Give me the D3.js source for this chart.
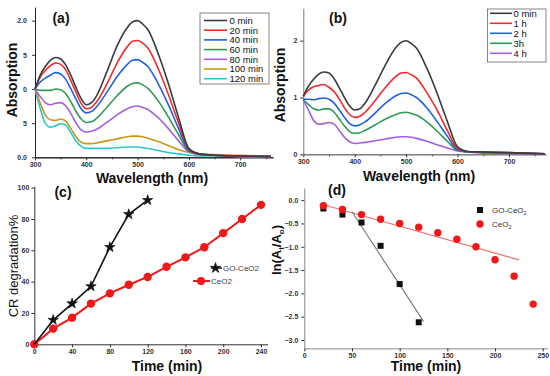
<!DOCTYPE html>
<meta charset="utf-8">
<script src="https://d3js.org/d3.v7.min.js"></script>
<style>
  body { margin: 0; background: #fff; }
  text { font-family: Arial, "Liberation Sans", sans-serif; }
  .tick text { font-size: 7px; font-weight: bold; fill: #333; }
  .tick line { stroke: #333; }
</style>
<body>
<div id="fig"></div>
<script>
  // ---- (a) / (b) UV-vis spectra ----
  var wavelengthsA = [300, 310, 320, 330, 340, 350, 360, 370, 380, 390, 400, 410, 420, 440, 460, 480, 490, 500, 510, 520, 540, 560, 580, 600, 620, 650, 700, 760];
  var wavelengthsB = [300, 310, 320, 330, 340, 350, 360, 370, 380, 390, 400, 410, 420, 440, 460, 480, 490, 500, 510, 520, 540, 560, 580, 600, 620, 650, 700, 770];

  var seriesNamesA = ["0 min", "20 min", "40 min", "60 min", "80 min", "100 min", "120 min"];
  var absA_0 = [1.00, 1.20, 1.33, 1.42, 1.46, 1.44, 1.35, 1.20, 1.02, 0.86, 0.77, 0.80, 0.90, 1.25, 1.63, 1.90, 1.98, 2.00, 1.95, 1.87, 1.52, 1.08, 0.58, 0.13, 0.05, 0.03, 0.02, 0.01];
  var absA_20 = [1.00, 1.17, 1.27, 1.34, 1.38, 1.36, 1.28, 1.12, 0.95, 0.79, 0.71, 0.73, 0.81, 1.07, 1.38, 1.62, 1.70, 1.71, 1.67, 1.60, 1.30, 0.92, 0.50, 0.12, 0.05, 0.03, 0.02, 0.01];
  var absA_40 = [1.00, 1.10, 1.16, 1.20, 1.24, 1.22, 1.14, 1.00, 0.85, 0.71, 0.65, 0.67, 0.74, 0.95, 1.18, 1.36, 1.42, 1.43, 1.39, 1.33, 1.08, 0.77, 0.42, 0.10, 0.05, 0.03, 0.02, 0.01];
  var absA_60 = [1.00, 0.98, 0.98, 0.98, 1.00, 0.99, 0.93, 0.81, 0.67, 0.56, 0.51, 0.52, 0.57, 0.73, 0.90, 1.04, 1.08, 1.09, 1.06, 1.01, 0.83, 0.59, 0.33, 0.09, 0.04, 0.03, 0.02, 0.01];
  var absA_80 = [1.00, 0.89, 0.80, 0.77, 0.79, 0.80, 0.75, 0.64, 0.50, 0.40, 0.37, 0.38, 0.41, 0.51, 0.62, 0.71, 0.74, 0.75, 0.73, 0.70, 0.58, 0.42, 0.24, 0.08, 0.04, 0.03, 0.02, 0.01];
  var absA_100 = [1.00, 0.80, 0.62, 0.55, 0.54, 0.56, 0.53, 0.42, 0.30, 0.22, 0.20, 0.20, 0.21, 0.24, 0.27, 0.30, 0.31, 0.31, 0.30, 0.28, 0.23, 0.17, 0.11, 0.07, 0.05, 0.04, 0.03, 0.01];
  var absA_120 = [1.00, 0.72, 0.50, 0.44, 0.46, 0.49, 0.47, 0.36, 0.24, 0.16, 0.13, 0.13, 0.13, 0.13, 0.14, 0.15, 0.15, 0.15, 0.14, 0.13, 0.10, 0.07, 0.05, 0.03, 0.02, 0.02, 0.01, 0.00];

  var seriesNamesB = ["0 min", "1 h", "2 h", "3h", "4 h"];
  var absB_0 = [1.02, 1.20, 1.32, 1.41, 1.45, 1.43, 1.33, 1.17, 1.00, 0.85, 0.78, 0.80, 0.90, 1.22, 1.58, 1.88, 1.97, 2.00, 1.95, 1.87, 1.52, 1.08, 0.58, 0.13, 0.05, 0.04, 0.03, 0.01];
  var absB_1 = [1.02, 1.13, 1.19, 1.21, 1.23, 1.18, 1.10, 0.97, 0.82, 0.70, 0.65, 0.67, 0.74, 0.95, 1.18, 1.37, 1.43, 1.44, 1.40, 1.34, 1.09, 0.78, 0.42, 0.10, 0.05, 0.04, 0.03, 0.01];
  var absB_2 = [0.97, 0.97, 0.96, 0.98, 0.99, 0.97, 0.90, 0.78, 0.65, 0.54, 0.50, 0.52, 0.57, 0.73, 0.90, 1.03, 1.07, 1.08, 1.05, 1.00, 0.82, 0.58, 0.32, 0.08, 0.04, 0.03, 0.02, 0.01];
  var absB_3 = [0.96, 0.88, 0.80, 0.78, 0.80, 0.80, 0.74, 0.62, 0.50, 0.40, 0.37, 0.38, 0.42, 0.52, 0.62, 0.70, 0.73, 0.74, 0.72, 0.69, 0.57, 0.41, 0.23, 0.07, 0.04, 0.03, 0.02, 0.01];
  var absB_4 = [0.96, 0.78, 0.60, 0.53, 0.54, 0.56, 0.53, 0.42, 0.30, 0.22, 0.19, 0.20, 0.21, 0.24, 0.27, 0.30, 0.31, 0.31, 0.30, 0.28, 0.23, 0.17, 0.11, 0.06, 0.04, 0.03, 0.02, 0.01];

  // ---- (c) degradation % ----
  var timeGO = [0, 20, 40, 60, 80, 100, 120];
  var degradGO = [0, 15.5, 26, 37, 62, 83, 92];
  var timeCeO2 = [0, 20, 40, 60, 80, 100, 120, 140, 160, 180, 200, 220, 240];
  var degradCeO2 = [0, 10, 17, 26, 32.5, 38, 43, 49.5, 55.5, 62, 71, 80, 89];

  // ---- (d) ln(At/A0) ----
  var kinTimeGO = [20, 40, 60, 80, 100, 120];
  var lnGO = [-0.18, -0.31, -0.48, -0.98, -1.80, -2.62];
  var kinTimeCeO2 = [20, 40, 60, 80, 100, 120, 140, 160, 180, 200, 220, 240];
  var lnCeO2 = [-0.12, -0.20, -0.31, -0.41, -0.50, -0.58, -0.70, -0.84, -1.00, -1.28, -1.63, -2.23];
  var fitGO = [[50, -0.25], [125, -2.60]];
  var fitCeO2 = [[20, -0.10], [225, -1.28]];

  // tick labels of (a) as printed (leading digits hidden behind the axis title)
  var tickLabelsAY = { "0": "0.0", "0.5": "5", "1": "0", "1.5": "5", "2": "2.0" };

  var colorsA = ["#3b3b3b", "#ee2b2b", "#1f62e0", "#2f9a55", "#a35ee3", "#c9961f", "#27c7d0"];
  var colorsB = ["#3b3b3b", "#ee2b2b", "#1f62e0", "#2f9a55", "#a35ee3"];

  var svg = d3.select("#fig").append("svg")
    .attr("width", 550).attr("height", 376)
    .style("display", "block");
  svg.append("rect").attr("width", 550).attr("height", 376).attr("fill", "#fff");

  function styleAxis(g, col) {
    g.select(".domain").attr("stroke", col).attr("stroke-width", 1);
    g.selectAll(".tick line").attr("stroke", col);
  }

  function bottomAxis(x, y0, major, minor, fmt, col) {
    if (minor) {
      var gm = svg.append("g").attr("transform", "translate(0," + y0 + ")")
        .call(d3.axisBottom(x).tickValues(minor).tickFormat("").tickSize(2).tickSizeOuter(0));
      styleAxis(gm, col);
    }
    var g = svg.append("g").attr("transform", "translate(0," + y0 + ")")
      .call(d3.axisBottom(x).tickValues(major).tickSize(3).tickSizeOuter(0).tickPadding(2).tickFormat(fmt || d3.format("d")));
    styleAxis(g, col);
  }

  function leftAxis(y, x0, major, fmt, col, pad) {
    var g = svg.append("g").attr("transform", "translate(" + x0 + ",0)")
      .call(d3.axisLeft(y).tickValues(major).tickSize(3).tickSizeOuter(0).tickPadding(pad).tickFormat(fmt));
    styleAxis(g, col);
  }

  function label(x, y, txt, size, weight, rot) {
    var t = svg.append("text")
      .attr("transform", "translate(" + x + "," + y + ")" + (rot ? "rotate(-90)" : ""))
      .attr("text-anchor", "middle")
      .style("font-size", size + "px")
      .style("font-weight", weight)
      .attr("fill", "#111")
      .text(txt);
    return t;
  }

  // =========== panel (a) ===========
  var xA = d3.scaleLinear().domain([300, 764]).range([35, 273]);
  var yA = d3.scaleLinear().domain([0, 2.2]).range([157.3, 7]);
  bottomAxis(xA, 157.3, [300, 400, 500, 600, 700], [350, 450, 550, 650, 750], null, "#222");
  leftAxis(yA, 35, [0, 0.5, 1, 1.5, 2], function (d) { return tickLabelsAY[String(d)]; }, "#222", 5);

  var specA = [absA_0, absA_20, absA_40, absA_60, absA_80, absA_100, absA_120];
  var lineA = d3.line().curve(d3.curveMonotoneX)
    .x(function (d, i) { return xA(wavelengthsA[i]); })
    .y(function (d) { return yA(d); });
  specA.slice().reverse().forEach(function (s, k) {
    svg.append("path").datum(s).attr("d", lineA)
      .attr("fill", "none").attr("stroke", colorsA[specA.length - 1 - k]).attr("stroke-width", 1.6);
  });

  svg.append("rect").attr("x", 200).attr("y", 13).attr("width", 69).attr("height", 71)
    .attr("fill", "#fff").attr("stroke", "#666").attr("stroke-width", 0.8);
  seriesNamesA.forEach(function (n, i) {
    var yy = 20.5 + i * 9.7;
    svg.append("line").attr("x1", 204).attr("x2", 227).attr("y1", yy).attr("y2", yy)
      .attr("stroke", colorsA[i]).attr("stroke-width", 1.6);
    svg.append("text").attr("x", 229.5).attr("y", yy + 3.3)
      .style("font-size", "9.5px").attr("fill", "#111").text(n);
  });

  label(61, 23, "(a)", 14, "bold");
  label(152, 183, "Wavelength (nm)", 14, "bold");
  label(17, 80, "Absorption", 14, "bold", true);

  // =========== panel (b) ===========
  var xB = d3.scaleLinear().domain([300, 772]).range([303.3, 546]);
  var yB = d3.scaleLinear().domain([0, 2.57]).range([154.3, 8.3]);
  bottomAxis(xB, 154.3, [300, 400, 500, 600, 700], [350, 450, 550, 650, 750], null, "#777");
  leftAxis(yB, 303.3, [0, 1, 2], d3.format("d"), "#777", 3);

  var specB = [absB_0, absB_1, absB_2, absB_3, absB_4];
  var lineB = d3.line().curve(d3.curveMonotoneX)
    .x(function (d, i) { return xB(wavelengthsB[i]); })
    .y(function (d) { return yB(d); });
  specB.slice().reverse().forEach(function (s, k) {
    svg.append("path").datum(s).attr("d", lineB)
      .attr("fill", "none").attr("stroke", colorsB[specB.length - 1 - k]).attr("stroke-width", 1.6);
  });

  svg.append("rect").attr("x", 487.5).attr("y", 9).attr("width", 58.5).attr("height", 53)
    .attr("fill", "#fff").attr("stroke", "#666").attr("stroke-width", 0.8);
  seriesNamesB.forEach(function (n, i) {
    var yy = 13.3 + i * 10;
    svg.append("line").attr("x1", 490).attr("x2", 512).attr("y1", yy).attr("y2", yy)
      .attr("stroke", colorsB[i]).attr("stroke-width", 1.6);
    svg.append("text").attr("x", 513.5).attr("y", yy + 3.3)
      .style("font-size", "9.5px").attr("fill", "#111").text(n);
  });

  label(338, 23, "(b)", 14, "bold");
  label(419, 181, "Wavelength (nm)", 14, "bold");
  label(285, 85, "Absorption", 14, "bold", true);

  // =========== panel (c) ===========
  var xC = d3.scaleLinear().domain([0, 247]).range([34.3, 267.6]);
  var yC = d3.scaleLinear().domain([0, 101]).range([344.3, 186.1]);
  bottomAxis(xC, 344.3, [0, 40, 80, 120, 160, 200, 240], null, null, "#333");
  leftAxis(yC, 34.3, [0, 20, 40, 60, 80, 100], d3.format("d"), "#333", 2);

  var lineC = d3.line();
  svg.append("path")
    .datum(timeCeO2.map(function (t, i) { return [xC(t), yC(degradCeO2[i])]; }))
    .attr("d", lineC).attr("fill", "none").attr("stroke", "#f01818").attr("stroke-width", 2);
  svg.selectAll(".dotC").data(timeCeO2).enter().append("circle")
    .attr("cx", function (d) { return xC(d); })
    .attr("cy", function (d, i) { return yC(degradCeO2[i]); })
    .attr("r", 4.2).attr("fill", "#f01818");

  svg.append("path")
    .datum(timeGO.map(function (t, i) { return [xC(t), yC(degradGO[i])]; }))
    .attr("d", lineC).attr("fill", "none").attr("stroke", "#111").attr("stroke-width", 1.6);
  var star = d3.symbol().type(d3.symbolStar).size(34);
  svg.selectAll(".starC").data(timeGO.slice(1)).enter().append("path")
    .attr("d", star)
    .attr("transform", function (d, i) { return "translate(" + xC(d) + "," + yC(degradGO[i + 1]) + ")"; })
    .attr("fill", "#111").attr("stroke", "#111").attr("stroke-width", 0.6);

  // legend (c)
  svg.append("line").attr("x1", 211).attr("x2", 222).attr("y1", 268).attr("y2", 268)
    .attr("stroke", "#111").attr("stroke-width", 1.4);
  svg.append("path").attr("d", star).attr("transform", "translate(215.5,268)")
    .attr("fill", "#111").attr("stroke", "#111").attr("stroke-width", 0.6);
  svg.append("text").attr("x", 223).attr("y", 271).style("font-size", "8px").attr("fill", "#444").text("GO-CeO2");
  svg.append("line").attr("x1", 193).attr("x2", 210).attr("y1", 281).attr("y2", 281)
    .attr("stroke", "#f01818").attr("stroke-width", 2);
  svg.append("circle").attr("cx", 201).attr("cy", 281).attr("r", 4).attr("fill", "#f01818");
  svg.append("text").attr("x", 211).attr("y", 284).style("font-size", "8px").attr("fill", "#444").text("CeO2");

  label(63, 197, "(c)", 14, "bold");
  label(167, 371, "Time (min)", 14, "bold");
  label(18, 266, "CR degradation%", 13, "normal", true);

  // =========== panel (d) ===========
  var xD = d3.scaleLinear().domain([0, 255]).range([304.3, 547.5]);
  var yD = d3.scaleLinear().domain([-3.18, 0.26]).range([348.4, 188]);
  bottomAxis(xD, 348.4, [0, 50, 100, 150, 200, 250], null, null, "#888");
  leftAxis(yD, 304.3, [0, -0.5, -1, -1.5, -2, -2.5, -3], function (d) { return d3.format(".1f")(d).replace("-", "\u2212"); }, "#888", 3);

  svg.append("line")
    .attr("x1", xD(fitCeO2[0][0])).attr("y1", yD(fitCeO2[0][1]))
    .attr("x2", xD(fitCeO2[1][0])).attr("y2", yD(fitCeO2[1][1]))
    .attr("stroke", "#f07070").attr("stroke-width", 1.2);
  svg.append("line")
    .attr("x1", xD(fitGO[0][0])).attr("y1", yD(fitGO[0][1]))
    .attr("x2", xD(fitGO[1][0])).attr("y2", yD(fitGO[1][1]))
    .attr("stroke", "#777").attr("stroke-width", 1.1);

  svg.selectAll(".sqD").data(kinTimeGO).enter().append("rect")
    .attr("x", function (d) { return xD(d) - 3; })
    .attr("y", function (d, i) { return yD(lnGO[i]) - 3; })
    .attr("width", 6).attr("height", 6).attr("fill", "#111");
  svg.selectAll(".dotD").data(kinTimeCeO2).enter().append("circle")
    .attr("cx", function (d) { return xD(d); })
    .attr("cy", function (d, i) { return yD(lnCeO2[i]); })
    .attr("r", 3.7).attr("fill", "#f01818");

  // legend (d)
  svg.append("rect").attr("x", 477).attr("y", 207).attr("width", 6).attr("height", 6).attr("fill", "#111");
  var tg = svg.append("text").attr("x", 492).attr("y", 213).style("font-size", "8px").attr("fill", "#333");
  tg.append("tspan").text("GO-CeO");
  tg.append("tspan").attr("dy", 2).style("font-size", "5.5px").text("2");
  svg.append("circle").attr("cx", 480).attr("cy", 224).attr("r", 3.7).attr("fill", "#f01818");
  var tc = svg.append("text").attr("x", 492).attr("y", 227).style("font-size", "8px").attr("fill", "#333");
  tc.append("tspan").text("CeO");
  tc.append("tspan").attr("dy", 2).style("font-size", "5.5px").text("2");

  label(337, 195, "(d)", 14, "bold");
  label(426, 371, "Time (min)", 14, "bold");
  var ln = svg.append("text")
    .attr("transform", "translate(281,250)rotate(-90)")
    .attr("text-anchor", "middle")
    .style("font-size", "13px").style("font-weight", "bold").attr("fill", "#111");
  ln.append("tspan").text("ln(A");
  ln.append("tspan").attr("dy", 3).style("font-size", "8px").text("t");
  ln.append("tspan").attr("dy", -3).text("/A");
  ln.append("tspan").attr("dy", 3).style("font-size", "8px").text("o");
  ln.append("tspan").attr("dy", -3).text(")");
</script>
</body>
